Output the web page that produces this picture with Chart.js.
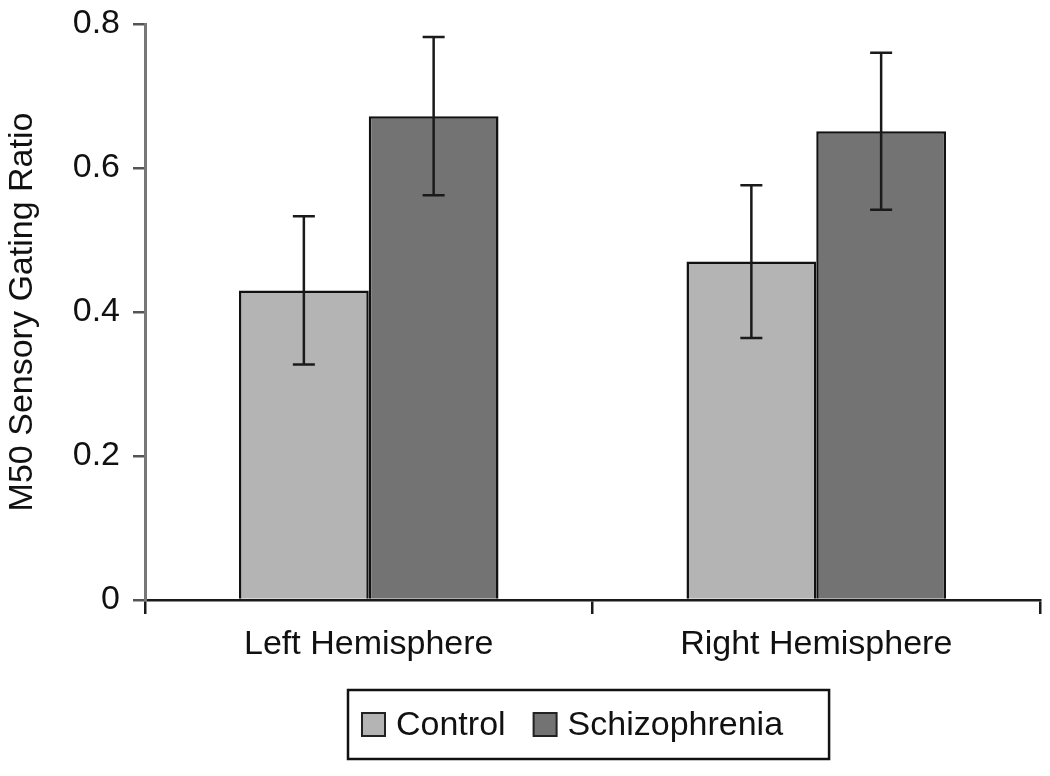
<!DOCTYPE html>
<html>
<head>
<meta charset="utf-8">
<script src="https://cdn.jsdelivr.net/npm/chart.js@4"></script>
<style>
  html, body { margin: 0; padding: 0; background: #fff; }
  #wrap { width: 1050px; height: 776px; }
</style>
</head>
<body>
<div id="wrap"><canvas id="chart" width="1050" height="776"></canvas></div>
<script>
const categories = ['Left Hemisphere', 'Right Hemisphere'];
const seriesNames = ['Control', 'Schizophrenia'];
const controlValues = [0.43, 0.47];
const schizoValues = [0.672, 0.651];
const controlErrors = [0.103, 0.106];
const schizoErrors = [0.11, 0.109];
const yTicks = [0, 0.2, 0.4, 0.6, 0.8];

const FONT = '"Liberation Sans", Arial, sans-serif';
const fillColors = ['#b4b4b4', '#737373'];

// error bars drawn from the y scale
const errorBars = {
    id: 'errorBars',
    afterDatasetsDraw(chart) {
        const ctx = chart.ctx;
        const y = chart.scales.y;
        chart.data.datasets.forEach((ds, i) => {
            const meta = chart.getDatasetMeta(i);
            meta.data.forEach((bar, j) => {
                const v = ds.data[j];
                const e = ds.errors[j];
                const top = y.getPixelForValue(v + e);
                const bot = y.getPixelForValue(v - e);
                ctx.save();
                ctx.strokeStyle = '#1a1a1a';
                ctx.lineWidth = 2.5;
                ctx.beginPath();
                ctx.moveTo(bar.x, top);
                ctx.lineTo(bar.x, bot);
                ctx.moveTo(bar.x - 11, top);
                ctx.lineTo(bar.x + 11, top);
                ctx.moveTo(bar.x - 11, bot);
                ctx.lineTo(bar.x + 11, bot);
                ctx.stroke();
                ctx.restore();
            });
        });
    }
};

// boxed legend under the axis
const boxLegend = {
    id: 'boxLegend',
    afterDraw(chart) {
        const ctx = chart.ctx;
        const area = chart.chartArea;
        ctx.save();
        ctx.font = '34px ' + FONT;
        const sw = 23, gapSw = 11, gapItem = 28, padL = 14, padR = 46;
        const widths = seriesNames.map(n => ctx.measureText(n).width);
        let total = padL + padR;
        widths.forEach((w, i) => { total += sw + gapSw + w + (i ? gapItem : 0); });
        const boxTop = area.bottom + 90, boxH = 69;
        const left = 348;
        ctx.strokeStyle = '#111';
        ctx.lineWidth = 2.5;
        ctx.strokeRect(left, boxTop, total, boxH);
        const cy = boxTop + boxH / 2;
        let x = left + padL;
        seriesNames.forEach((name, i) => {
            if (i) x += gapItem;
            ctx.fillStyle = fillColors[i];
            ctx.fillRect(x, cy - sw / 2, sw, sw);
            ctx.strokeStyle = '#222';
            ctx.lineWidth = 2;
            ctx.strokeRect(x, cy - sw / 2, sw, sw);
            x += sw + gapSw;
            ctx.fillStyle = '#111';
            ctx.textBaseline = 'middle';
            ctx.fillText(name, x, cy + 1);
            x += widths[i];
        });
        ctx.restore();
    }
};

new Chart(document.getElementById('chart'), {
    type: 'bar',
    data: {
        labels: categories,
        datasets: [
            {
                label: seriesNames[0],
                data: controlValues,
                errors: controlErrors,
                backgroundColor: fillColors[0],
                borderColor: '#111',
                borderWidth: 2.5
            },
            {
                label: seriesNames[1],
                data: schizoValues,
                errors: schizoErrors,
                backgroundColor: fillColors[1],
                borderColor: '#111',
                borderWidth: 2.5
            }
        ]
    },
    options: {
        responsive: false,
        animation: false,
        layout: { padding: { top: 24, right: 10, bottom: 0, left: 0 } },
        barPercentage: 1,
        categoryPercentage: 0.58,
        plugins: {
            legend: { display: false },
            tooltip: { enabled: false }
        },
        scales: {
            x: {
                border: { color: '#1a1a1a', width: 2.5 },
                grid: { drawOnChartArea: false, tickLength: 14, color: '#1a1a1a', lineWidth: 2.5, offset: true },
                ticks: { color: '#111', font: { family: FONT, size: 34 }, padding: 10 },
                afterFit(scale) {
                    scale.height = 176;
                    scale.paddingLeft = 0;
                    scale.paddingRight = 0;
                }
            },
            y: {
                min: 0,
                max: 0.8,
                afterBuildTicks(scale) { scale.ticks = yTicks.map(v => ({ value: v })); },
                border: { color: '#777', width: 3 },
                grid: { drawOnChartArea: false, tickLength: 12, color: '#555', lineWidth: 2.5 },
                ticks: { color: '#111', font: { family: FONT, size: 34 }, padding: 13 },
                title: {
                    display: true,
                    text: 'M50 Sensory Gating Ratio',
                    color: '#111',
                    font: { family: FONT, size: 34 },
                    padding: { top: 2, bottom: 0 }
                },
                afterFit(scale) {
                    scale.width = 145;
                    scale.paddingTop = 0;
                    scale.paddingBottom = 0;
                }
            }
        }
    },
    plugins: [errorBars, boxLegend]
});
</script>
</body>
</html>
